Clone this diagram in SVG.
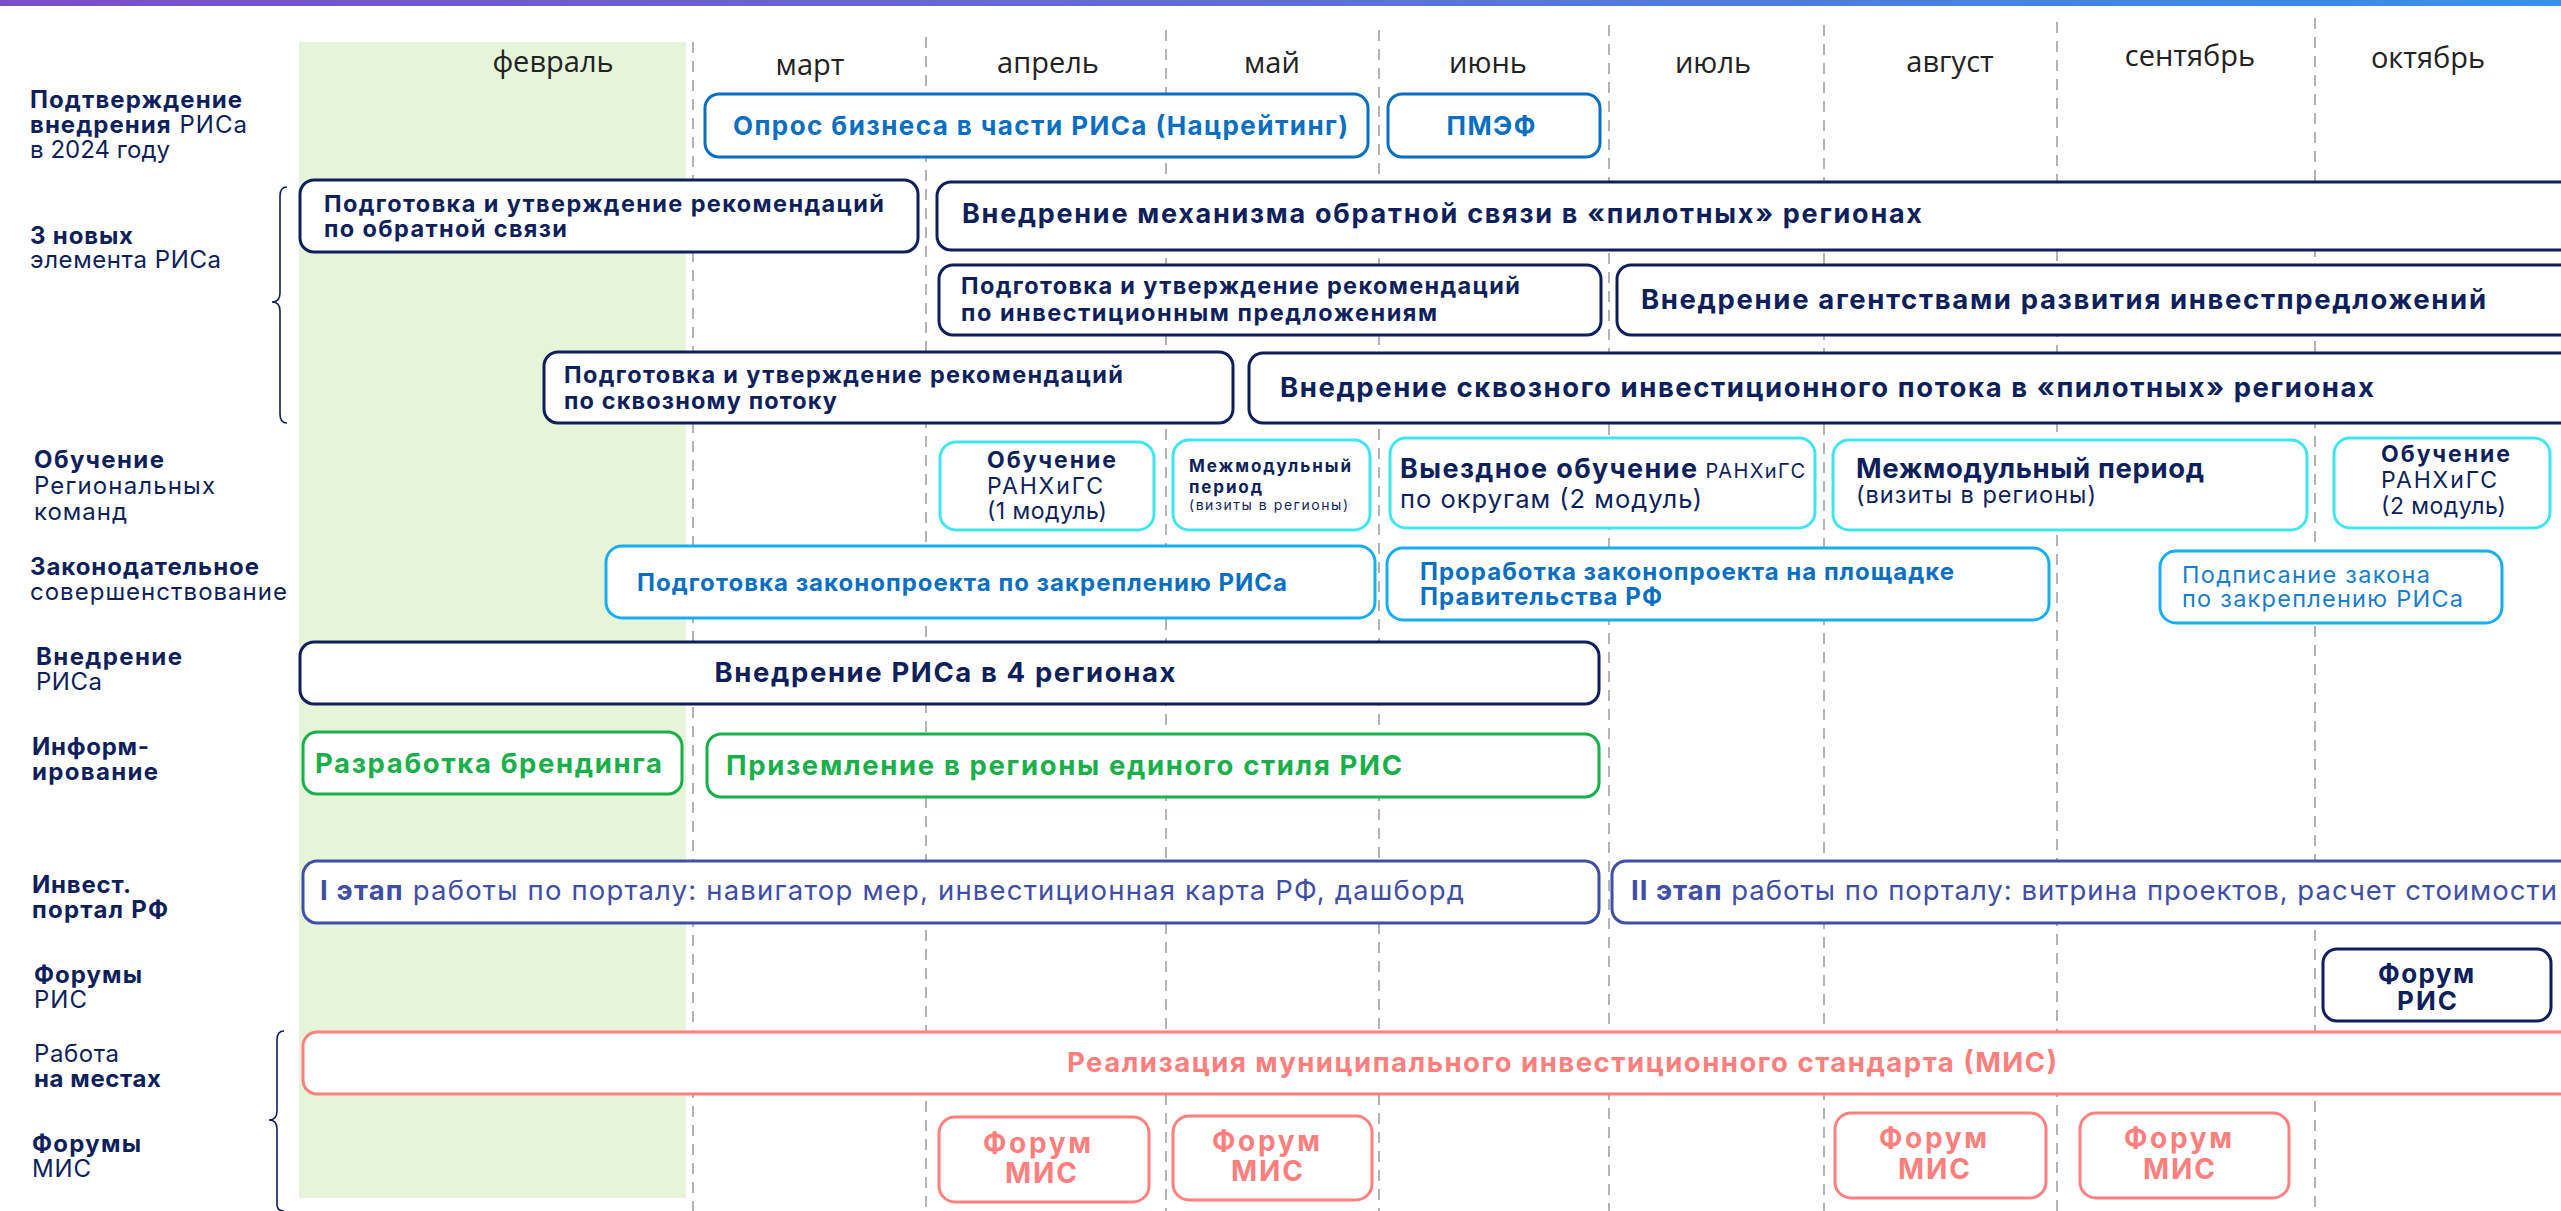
<svg xmlns="http://www.w3.org/2000/svg" width="2561" height="1211" viewBox="0 0 2561 1211">
<defs>
<linearGradient id="topbar" x1="0" y1="0" x2="1" y2="0">
<stop offset="0" stop-color="#7b4ec8"/><stop offset="0.5" stop-color="#5f6fd8"/><stop offset="1" stop-color="#3592ea"/>
</linearGradient>
</defs>
<style>
text{font-family:Inter,"Noto Sans",sans-serif}
.m{font-family:"Open Sans","Noto Sans",sans-serif;font-size:29px;fill:#222;text-anchor:middle}
.l{font-size:24px;fill:#0e1f5b}
.b{font-weight:700}
.dash{stroke:#b3b3b3;stroke-width:2;stroke-dasharray:11 8;fill:none}
.box{fill:#fff;stroke-width:3}
.navy{stroke:#0e1f5b}.tn{fill:#0e1f5b}
.blue{stroke:#0a6fc2}.tb{fill:#0a6fc2}
.sky{stroke:#17aef0}.ts{fill:#1a7ec8}
.cyan{stroke:#3fe6f2}
.green{stroke:#19b04b}.tg{fill:#19b04b}
.ind{stroke:#3f4ea8}.ti{fill:#3f4ea8}
.sal{stroke:#ff8080}.tr{fill:#ff7f7f}
.brace{fill:none;stroke:#0e1f5b;stroke-width:1.6}
</style>
<rect x="0" y="0" width="2561" height="1211" fill="#fff"/>
<rect x="0" y="0" width="2561" height="6" fill="url(#topbar)"/>
<rect x="299" y="42" width="387" height="1156" fill="#e6f4da"/>

<g id="grid">
<line class="dash" x1="693" y1="42" x2="693" y2="1211"/>
<line class="dash" x1="926" y1="37" x2="926" y2="1211"/>
<line class="dash" x1="1166" y1="30" x2="1166" y2="1211"/>
<line class="dash" x1="1379" y1="30" x2="1379" y2="1211"/>
<line class="dash" x1="1609" y1="25" x2="1609" y2="1211"/>
<line class="dash" x1="1824" y1="25" x2="1824" y2="1211"/>
<line class="dash" x1="2057" y1="22" x2="2057" y2="1211"/>
<line class="dash" x1="2315" y1="18" x2="2315" y2="1211"/>
</g>

<g id="months">
<text class="m" x="553" y="72">февраль</text>
<text class="m" x="810" y="75">март</text>
<text class="m" x="1048" y="73">апрель</text>
<text class="m" x="1272" y="73">май</text>
<text class="m" x="1488" y="73">июнь</text>
<text class="m" x="1713" y="73">июль</text>
<text class="m" x="1950" y="72">август</text>
<text class="m" x="2190" y="66">сентябрь</text>
<text class="m" x="2428" y="68">октябрь</text>
</g>

<g id="row-labels">
<text class="l b" x="30" y="108" textLength="212">Подтверждение</text>
<text class="l" x="30" y="133" textLength="217"><tspan class="b">внедрения</tspan> РИСа</text>
<text class="l" x="30" y="158" textLength="140">в 2024 году</text>
<text class="l b" x="30" y="244" textLength="103">3 новых</text>
<text class="l" x="30" y="268" textLength="191">элемента РИСа</text>
<text class="l b" x="34" y="468" textLength="130">Обучение</text>
<text class="l" x="34" y="494" textLength="181">Региональных</text>
<text class="l" x="34" y="520" textLength="93">команд</text>
<text class="l b" x="30" y="575" textLength="229">Законодательное</text>
<text class="l" x="30" y="600" textLength="257">совершенствование</text>
<text class="l b" x="36" y="665" textLength="146">Внедрение</text>
<text class="l" x="36" y="690" textLength="66">РИСа</text>
<text class="l b" x="32" y="755" textLength="117">Информ-</text>
<text class="l b" x="32" y="780" textLength="126">ирование</text>
<text class="l b" x="32" y="893" textLength="99">Инвест.</text>
<text class="l b" x="32" y="918" textLength="136">портал РФ</text>
<text class="l b" x="34" y="983" textLength="108">Форумы</text>
<text class="l" x="34" y="1008" textLength="53">РИС</text>
<text class="l" x="34" y="1062" textLength="85">Работа</text>
<text class="l b" x="34" y="1087" textLength="127">на местах</text>
<text class="l b" x="32" y="1152" textLength="109">Форумы</text>
<text class="l" x="32" y="1177" textLength="59">МИС</text>
</g>

<g id="braces">
<path class="brace" d="M287,187 Q280,187 280,196 L280,293 Q280,302 272,302 Q280,302 280,311 L280,414 Q280,423 287,423"/>
<path class="brace" d="M284,1031 Q277,1031 277,1040 L277,1111 Q277,1120 269,1120 Q277,1120 277,1129 L277,1204 Q277,1211 284,1211"/>
</g>

<g id="opros">
<rect class="box blue" x="705" y="94" width="663" height="63" rx="14"/>
<text class="b tb" x="1040.5" y="135" font-size="26" text-anchor="middle" textLength="615">Опрос бизнеса в части РИСа (Нацрейтинг)</text>
</g>
<g id="pmef">
<rect class="box blue" x="1388" y="94" width="212" height="63" rx="14"/>
<text class="b tb" x="1491" y="135" font-size="26" text-anchor="middle" textLength="89">ПМЭФ</text>
</g>

<g id="obr-prep">
<rect class="box navy" x="300" y="180" width="618" height="72" rx="14"/>
<text class="b tn" x="324" y="212" font-size="23.5" textLength="560">Подготовка и утверждение рекомендаций</text>
<text class="b tn" x="324" y="237" font-size="23.5" textLength="243">по обратной связи</text>
</g>
<g id="obr-impl">
<rect class="box navy" x="937" y="182" width="1660" height="68" rx="14"/>
<text class="b tn" x="962" y="223" font-size="27" textLength="960">Внедрение механизма обратной связи в «пилотных» регионах</text>
</g>
<g id="inv-prep">
<rect class="box navy" x="939" y="265" width="662" height="70" rx="14"/>
<text class="b tn" x="961" y="294" font-size="23.5" textLength="559">Подготовка и утверждение рекомендаций</text>
<text class="b tn" x="961" y="321" font-size="23.5" textLength="476">по инвестиционным предложениям</text>
</g>
<g id="inv-impl">
<rect class="box navy" x="1617" y="265" width="980" height="70" rx="14"/>
<text class="b tn" x="1641" y="309" font-size="27.5" textLength="845">Внедрение агентствами развития инвестпредложений</text>
</g>
<g id="skv-prep">
<rect class="box navy" x="544" y="352" width="689" height="71" rx="14"/>
<text class="b tn" x="564" y="383" font-size="23.5" textLength="559">Подготовка и утверждение рекомендаций</text>
<text class="b tn" x="564" y="409" font-size="23.5" textLength="273">по сквозному потоку</text>
</g>
<g id="skv-impl">
<rect class="box navy" x="1249" y="353" width="1350" height="70" rx="14"/>
<text class="b tn" x="1280" y="397" font-size="27.5" textLength="1094">Внедрение сквозного инвестиционного потока в «пилотных» регионах</text>
</g>

<g id="ob1">
<rect class="box cyan" x="940" y="442" width="214" height="88" rx="16"/>
<text class="b tn" x="987" y="468" font-size="23" textLength="129">Обучение</text>
<text class="tn" x="987" y="494" font-size="23" textLength="116">РАНХиГС</text>
<text class="tn" x="987" y="519" font-size="23" textLength="120">(1 модуль)</text>
</g>
<g id="mm1">
<rect class="box cyan" x="1173" y="440" width="197" height="90" rx="16"/>
<text class="b tn" x="1189" y="472" font-size="17" textLength="162">Межмодульный</text>
<text class="b tn" x="1189" y="493" font-size="17" textLength="73">период</text>
<text class="tn" x="1189" y="510" font-size="14" textLength="159">(визиты в регионы)</text>
</g>
<g id="vyezd">
<rect class="box cyan" x="1390" y="438" width="425" height="90" rx="16"/>
<text class="tn" x="1400" y="478" textLength="405"><tspan class="b" font-size="27">Выездное обучение</tspan><tspan font-size="20"> РАНХиГС</tspan></text>
<text class="tn" x="1400" y="508" font-size="25.5" textLength="302">по округам (2 модуль)</text>
</g>
<g id="mm2">
<rect class="box cyan" x="1833" y="440" width="474" height="90" rx="16"/>
<text class="b tn" x="1856" y="478" font-size="27.5" textLength="348">Межмодульный период</text>
<text class="tn" x="1856" y="503" font-size="23.5" textLength="240">(визиты в регионы)</text>
</g>
<g id="ob2">
<rect class="box cyan" x="2334" y="438" width="216" height="90" rx="16"/>
<text class="b tn" x="2381" y="462" font-size="23" textLength="129">Обучение</text>
<text class="tn" x="2381" y="488" font-size="23" textLength="116">РАНХиГС</text>
<text class="tn" x="2381" y="514" font-size="23" textLength="125">(2 модуль)</text>
</g>

<g id="zak1">
<rect class="box sky" x="606" y="546" width="769" height="72" rx="16"/>
<text class="b tb" x="637" y="591" font-size="24" textLength="650">Подготовка законопроекта по закреплению РИСа</text>
</g>
<g id="zak2">
<rect class="box sky" x="1387" y="548" width="662" height="72" rx="16"/>
<text class="b tb" x="1420" y="580" font-size="24" textLength="534">Проработка законопроекта на площадке</text>
<text class="b tb" x="1420" y="605" font-size="24" textLength="242">Правительства РФ</text>
</g>
<g id="zak3">
<rect class="box sky" x="2160" y="551" width="342" height="72" rx="16"/>
<text class="ts" x="2182" y="583" font-size="23.5" textLength="248">Подписание закона</text>
<text class="ts" x="2182" y="607" font-size="23.5" textLength="281">по закреплению РИСа</text>
</g>

<g id="vnedr">
<rect class="box navy" x="300" y="642" width="1299" height="62" rx="14"/>
<text class="b tn" x="945" y="682" font-size="27.5" text-anchor="middle" textLength="461">Внедрение РИСа в 4 регионах</text>
</g>

<g id="brand">
<rect class="box green" x="303" y="732" width="379" height="62" rx="14"/>
<text class="b tg" x="315" y="773" font-size="27.5" textLength="347">Разработка брендинга</text>
</g>
<g id="prizem">
<rect class="box green" x="707" y="734" width="892" height="63" rx="14"/>
<text class="b tg" x="726" y="775" font-size="27.5" textLength="676">Приземление в регионы единого стиля РИС</text>
</g>

<g id="portal1">
<rect class="box ind" x="303" y="861" width="1296" height="62" rx="14"/>
<text class="ti" x="320" y="900" font-size="27.5" textLength="1144"><tspan class="b">I этап</tspan> работы по порталу: навигатор мер, инвестиционная карта РФ, дашборд</text>
</g>
<g id="portal2">
<rect class="box ind" x="1612" y="861" width="985" height="62" rx="14"/>
<text class="ti" x="1631" y="900" font-size="27.5" textLength="926"><tspan class="b">II этап</tspan> работы по порталу: витрина проектов, расчет стоимости</text>
</g>

<g id="forum-ris">
<rect class="box navy" x="2323" y="949" width="228" height="72" rx="14"/>
<text class="b tn" x="2426" y="983" font-size="26" text-anchor="middle" textLength="96">Форум</text>
<text class="b tn" x="2427" y="1010" font-size="26" text-anchor="middle" textLength="60">РИС</text>
</g>

<g id="mis">
<rect class="box sal" x="303" y="1032" width="2294" height="62" rx="14"/>
<text class="b tr" x="1562" y="1072" font-size="27.5" text-anchor="middle" textLength="990">Реализация муниципального инвестиционного стандарта (МИС)</text>
</g>

<g id="forum-mis-1">
<rect class="box sal" x="939" y="1117" width="210" height="85" rx="16"/>
<text class="b tr" x="1037" y="1153" font-size="28" text-anchor="middle" textLength="108">Форум</text>
<text class="b tr" x="1041" y="1183" font-size="28" text-anchor="middle" textLength="72">МИС</text>
</g>
<g id="forum-mis-2">
<rect class="box sal" x="1173" y="1116" width="199" height="84" rx="16"/>
<text class="b tr" x="1266" y="1151" font-size="28" text-anchor="middle" textLength="108">Форум</text>
<text class="b tr" x="1267" y="1181" font-size="28" text-anchor="middle" textLength="72">МИС</text>
</g>
<g id="forum-mis-3">
<rect class="box sal" x="1835" y="1113" width="211" height="85" rx="16"/>
<text class="b tr" x="1933" y="1148" font-size="28" text-anchor="middle" textLength="108">Форум</text>
<text class="b tr" x="1934" y="1179" font-size="28" text-anchor="middle" textLength="72">МИС</text>
</g>
<g id="forum-mis-4">
<rect class="box sal" x="2080" y="1113" width="209" height="85" rx="16"/>
<text class="b tr" x="2178" y="1148" font-size="28" text-anchor="middle" textLength="108">Форум</text>
<text class="b tr" x="2179" y="1179" font-size="28" text-anchor="middle" textLength="72">МИС</text>
</g>
</svg>
